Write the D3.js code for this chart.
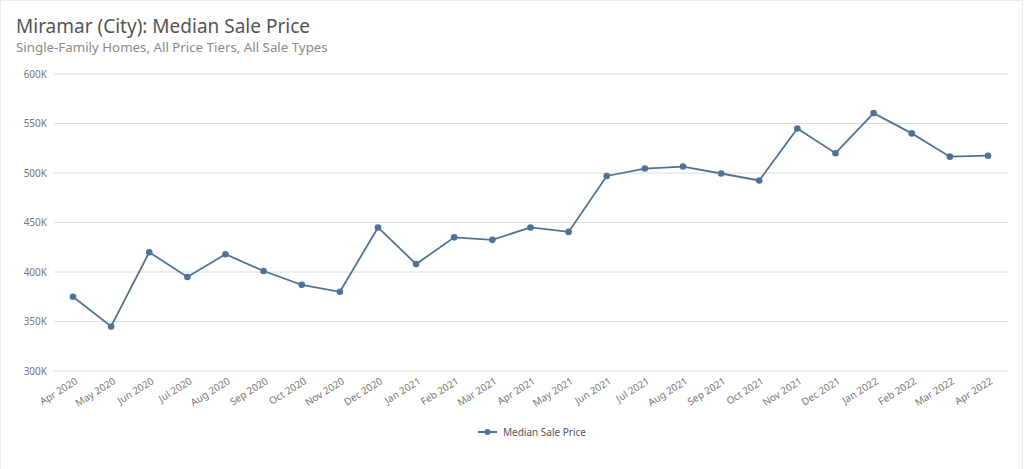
<!DOCTYPE html>
<html>
<head>
<meta charset="utf-8">
<script src="https://cdn.jsdelivr.net/npm/d3@7"></script>
<style>
  html, body { margin: 0; padding: 0; background: #fff; }
  svg { display: block; font-family: "Noto Sans", "Open Sans", sans-serif; }
</style>
</head>
<body>
<div id="chart"></div>
<script>
const months = [
  "Apr 2020", "May 2020", "Jun 2020", "Jul 2020", "Aug 2020", "Sep 2020",
  "Oct 2020", "Nov 2020", "Dec 2020", "Jan 2021", "Feb 2021", "Mar 2021",
  "Apr 2021", "May 2021", "Jun 2021", "Jul 2021", "Aug 2021", "Sep 2021",
  "Oct 2021", "Nov 2021", "Dec 2021", "Jan 2022", "Feb 2022", "Mar 2022",
  "Apr 2022"
];

const medianPrice = [
  375000, 345000, 420000, 395000, 418000, 401000,
  387000, 380000, 445000, 408000, 435000, 432500,
  445000, 440500, 497000, 504500, 506500, 499500,
  492500, 545000, 520000, 560500, 540000, 516500,
  517500
];

const yTicks = [300000, 350000, 400000, 450000, 500000, 550000, 600000];

const seriesName = "Median Sale Price";
const titleText = "Miramar (City): Median Sale Price";
const subtitleText = "Single-Family Homes, All Price Tiers, All Sale Types";

const width = 1024, height = 469;
const lineColor = "#4f7397";

const data = months.map((m, i) => ({ month: m, value: medianPrice[i] }));

const svg = d3.select("#chart")
  .append("svg")
  .attr("width", width)
  .attr("height", height);

// cornice leggera attorno al grafico
svg.append("rect")
  .attr("x", 0.5)
  .attr("y", 0.5)
  .attr("width", 1022)
  .attr("height", 470)
  .attr("fill", "none")
  .attr("stroke", "#ececec");

svg.append("text")
  .attr("x", 16)
  .attr("y", 33)
  .attr("fill", "#555")
  .style("font-size", "19px")
  .text(titleText);

svg.append("text")
  .attr("x", 16)
  .attr("y", 52)
  .attr("fill", "#8a8a8a")
  .style("font-size", "13.3px")
  .text(subtitleText);

const xScale = d3.scalePoint()
  .domain(months)
  .range([73, 988]);

const yScale = d3.scaleLinear()
  .domain([300000, 600000])
  .range([371, 74]);

// griglia orizzontale
svg.selectAll("line.hgrid")
  .data(yTicks)
  .enter()
  .append("line")
  .attr("class", "hgrid")
  .attr("x1", 54)
  .attr("x2", 1008)
  .attr("y1", d => yScale(d))
  .attr("y2", d => yScale(d))
  .style("stroke", "#dcdcdc")
  .style("stroke-width", 1);

// asse y
const yAxis = d3.axisLeft(yScale)
  .tickValues(yTicks)
  .tickSize(0)
  .tickPadding(0)
  .tickFormat(d => (d / 1000) + "K");

const yG = svg.append("g")
  .attr("transform", "translate(47, 0)")
  .call(yAxis);
yG.select(".domain").remove();
yG.selectAll("text")
  .attr("fill", "#777")
  .style("font-size", "10px")
  .style("font-family", "'Noto Sans', sans-serif");

// asse x
const xAxis = d3.axisBottom(xScale).tickSize(0).tickPadding(0);
const xG = svg.append("g")
  .attr("transform", "translate(0, 380)")
  .call(xAxis);
xG.select(".domain").remove();
xG.selectAll("text")
  .attr("fill", "#777")
  .style("font-size", "10px")
  .style("font-family", "'Noto Sans', sans-serif")
  .attr("text-anchor", "end")
  .attr("dy", "0.35em")
  .attr("transform", "translate(3, 0) rotate(-32)");

// linea
const line = d3.line()
  .x(d => xScale(d.month))
  .y(d => yScale(d.value));

svg.append("path")
  .datum(data)
  .attr("fill", "none")
  .attr("stroke", lineColor)
  .attr("stroke-width", 1.8)
  .attr("d", line);

svg.selectAll("circle.point")
  .data(data)
  .enter()
  .append("circle")
  .attr("class", "point")
  .attr("cx", d => xScale(d.month))
  .attr("cy", d => yScale(d.value))
  .attr("r", 3.3)
  .attr("fill", lineColor);

// legenda
const legend = svg.append("g").attr("transform", "translate(478, 432)");
legend.append("line")
  .attr("x1", 0).attr("x2", 19)
  .attr("y1", 0).attr("y2", 0)
  .attr("stroke", lineColor)
  .attr("stroke-width", 2);
legend.append("circle")
  .attr("cx", 9.5).attr("cy", 0).attr("r", 3)
  .attr("fill", lineColor);
legend.append("text")
  .attr("x", 25)
  .attr("y", 0)
  .attr("dy", "0.35em")
  .attr("fill", "#555")
  .style("font-size", "10px")
  .text(seriesName);
</script>
</body>
</html>
